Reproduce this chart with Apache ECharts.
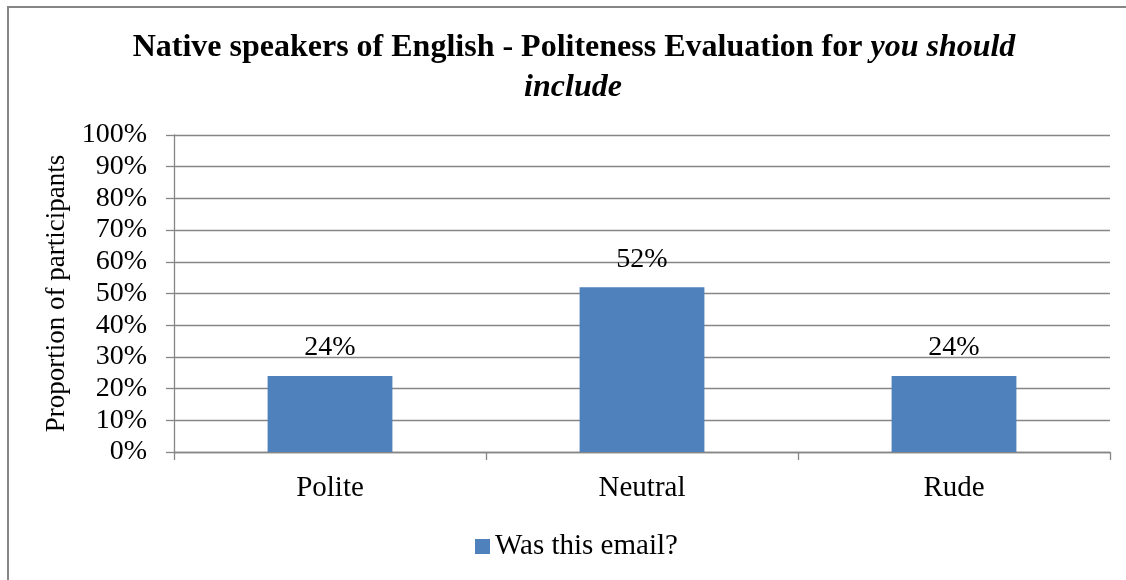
<!DOCTYPE html>
<html>
<head>
<meta charset="utf-8">
<script src="https://cdn.jsdelivr.net/npm/echarts@6/dist/echarts.min.js"></script>
<style>
html,body{margin:0;padding:0;background:#fff;}
#chart{width:1126px;height:580px;}
</style>
</head>
<body>
<div id="chart"></div>
<script>
const categories = ['Polite', 'Neutral', 'Rude'];
const seriesName = 'Was this email?';
const values = [24, 52, 24];
const yTicks = [0, 10, 20, 30, 40, 50, 60, 70, 80, 90, 100];

const FONT = '"Liberation Serif", "Times New Roman", serif';
const GRAY = '#868686';
const chart = echarts.init(document.getElementById('chart'));
chart.setOption({
  animation: false,
  backgroundColor: '#fff',
  textStyle: { fontFamily: FONT, color: '#000' },
  graphic: [{
    type: 'rect',
    shape: { x: 8, y: 7, width: 1130, height: 600 },
    style: { fill: 'none', stroke: GRAY, lineWidth: 2 },
    silent: true
  }],
  title: [{
    text: '{b|Native speakers of English - Politeness Evaluation for }{bi|you should}',
    left: 569, top: 27, textAlign: 'center',
    textStyle: {
      rich: {
        b: { fontFamily: FONT, fontWeight: 'bold', fontSize: 32, color: '#000' },
        bi: { fontFamily: FONT, fontWeight: 'bold', fontStyle: 'italic', fontSize: 32, color: '#000' }
      }
    }
  }, {
    text: 'include',
    left: 568, top: 67, textAlign: 'center',
    textStyle: { fontFamily: FONT, fontWeight: 'bold', fontStyle: 'italic', fontSize: 32, color: '#000' }
  }],
  legend: {
    data: [seriesName],
    bottom: 14,
    left: 470,
    itemWidth: 15, itemHeight: 15, itemGap: 7,
    icon: 'rect',
    textStyle: { fontFamily: FONT, fontSize: 29, color: '#000' }
  },
  grid: { left: 174, top: 135, right: 16, bottom: 128, containLabel: false },
  xAxis: {
    type: 'category',
    data: categories,
    axisLine: { lineStyle: { color: GRAY, width: 1.3 } },
    axisTick: { show: true, length: 8, lineStyle: { color: GRAY, width: 1.3 } },
    axisLabel: { fontFamily: FONT, fontSize: 29, color: '#000', margin: 22 }
  },
  yAxis: {
    type: 'value',
    min: 0, max: 100, interval: 10,
    name: 'Proportion of participants',
    nameLocation: 'middle',
    nameRotate: 90,
    nameGap: 94,
    nameTextStyle: { fontFamily: FONT, fontSize: 27, color: '#000' },
    axisLine: { show: true, lineStyle: { color: GRAY, width: 1.3 } },
    axisTick: { show: true, length: 8, lineStyle: { color: GRAY, width: 1.3 } },
    axisLabel: {
      fontFamily: FONT, fontSize: 28, color: '#000', margin: 27,
      formatter: function (v) { return yTicks.indexOf(v) >= 0 ? v + '%' : ''; }
    },
    splitLine: { show: true, lineStyle: { color: GRAY, width: 1.3 } }
  },
  series: [{
    name: seriesName,
    type: 'bar',
    data: values,
    barWidth: '40%',
    itemStyle: { color: '#4F81BD' },
    label: {
      show: true, position: 'top', distance: 14,
      fontFamily: FONT, fontSize: 28, color: '#000',
      formatter: function (p) { return p.value + '%'; }
    }
  }]
});
</script>
</body>
</html>
